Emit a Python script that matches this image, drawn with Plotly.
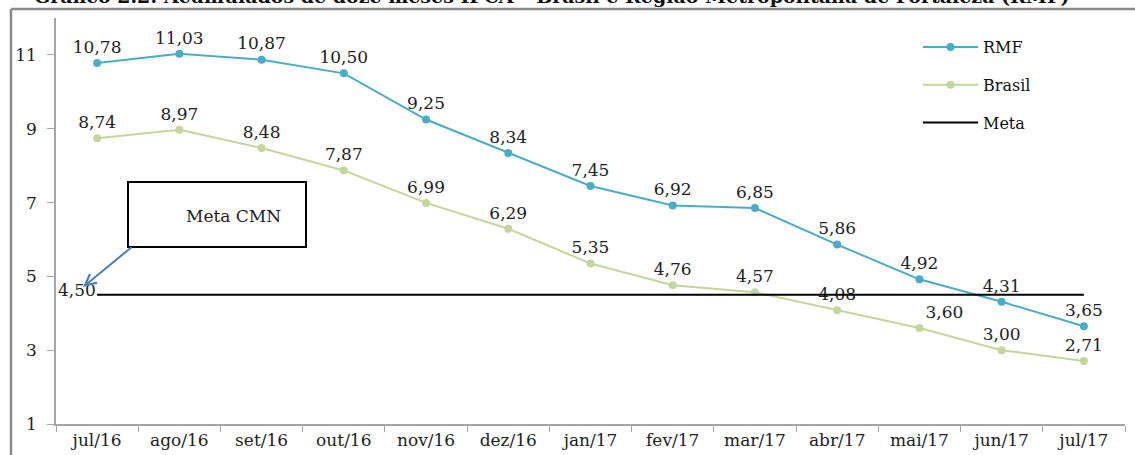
import plotly.graph_objects as go

# ---- data ----
months = ["jul/16", "ago/16", "set/16", "out/16", "nov/16", "dez/16", "jan/17",
          "fev/17", "mar/17", "abr/17", "mai/17", "jun/17", "jul/17"]
rmf = [10.78, 11.03, 10.87, 10.50, 9.25, 8.34, 7.45, 6.92, 6.85, 5.86, 4.92, 4.31, 3.65]
brasil = [8.74, 8.97, 8.48, 7.87, 6.99, 6.29, 5.35, 4.76, 4.57, 4.08, 3.60, 3.00, 2.71]
meta = [4.50] * len(months)
y_ticks = [1, 3, 5, 7, 9, 11]

W, H = 1135, 455
L, R, T, B = 56, 10, 18, 31
PW, PH = W - L - R, H - T - B


def px(x):
    return (x - L) / PW


def py(y):
    return (H - B - y) / PH


FONT = "DejaVu Serif"
C_RMF = "#4bacc6"
C_BR = "#c3d69b"
TXT = "#222222"


def fmt(v):
    return f"{v:.2f}".replace(".", ",")


br_pos = ["top center"] * len(brasil)
br_pos[10] = "top right"

fig = go.Figure()
fig.add_trace(go.Scatter(
    x=months, y=rmf, name="RMF", mode="lines+markers+text",
    line=dict(color=C_RMF, width=2), marker=dict(color=C_RMF, size=8),
    text=[fmt(v) for v in rmf], textposition="top center",
    textfont=dict(family=FONT, size=17, color=TXT),
    legendgroup="a", cliponaxis=False))
fig.add_trace(go.Scatter(
    x=months, y=brasil, name="Brasil", mode="lines+markers+text",
    line=dict(color=C_BR, width=2), marker=dict(color=C_BR, size=8),
    text=[fmt(v) for v in brasil], textposition=br_pos,
    textfont=dict(family=FONT, size=17, color=TXT),
    legendgroup="b", cliponaxis=False))
fig.add_trace(go.Scatter(
    x=months, y=meta, name="Meta", mode="lines",
    line=dict(color="black", width=2), legendgroup="c"))

fig.add_annotation(x=months[0], y=meta[0], xref="x", yref="y", text=fmt(meta[0]),
                   showarrow=False, xanchor="right", yanchor="middle", xshift=1, yshift=5,
                   font=dict(family=FONT, size=17, color=TXT))

# Meta CMN callout
fig.add_shape(type="rect", xref="paper", yref="paper",
              x0=px(128), x1=px(306), y0=py(247), y1=py(182),
              line=dict(color="black", width=2), fillcolor="white")
fig.add_annotation(xref="paper", yref="paper", x=px(233), y=py(216), text="Meta CMN",
                   xanchor="center", yanchor="middle",
                   showarrow=False, font=dict(family=FONT, size=17, color=TXT))
fig.add_annotation(xref="paper", yref="paper", x=px(83), y=py(287), text="",
                   showarrow=True, ax=50, ay=-41, arrowcolor="#4a7ebb",
                   arrowwidth=2, arrowhead=5, arrowsize=1.1)

# outer frame lines
fig.add_shape(type="line", xref="paper", yref="paper", x0=px(11), x1=px(1140),
              y0=py(9), y1=py(9), line=dict(color="#8c8c8c", width=2.5))
fig.add_shape(type="line", xref="paper", yref="paper", x0=px(11), x1=px(11),
              y0=py(9), y1=py(460), line=dict(color="#8c8c8c", width=2.5))

# cut-off title
fig.add_annotation(xref="paper", yref="paper", x=px(551), y=py(9), yanchor="bottom",
                   xanchor="center",
                   text="<b>Gráfico 2.2: Acumulados de doze meses IPCA – Brasil e Região Metropolitana de Fortaleza (RMF)</b>",
                   showarrow=False, font=dict(family=FONT, size=19, color="#111"))

fig.update_layout(
    width=W, height=H, margin=dict(l=L, r=R, t=T, b=B, autoexpand=False),
    plot_bgcolor="white", paper_bgcolor="white",
    font=dict(family=FONT, size=17, color=TXT),
    showlegend=True,
    legend=dict(x=px(918), y=py(30), xanchor="left", yanchor="top",
                font=dict(family=FONT, size=16, color="#111"),
                tracegroupgap=14, itemwidth=55, bgcolor="rgba(0,0,0,0)"),
    xaxis=dict(type="category", range=[-0.5, 12.5], showline=True, linecolor="#a6a6a6",
               linewidth=1.5, ticks="outside", tickson="boundaries", ticklen=6,
               tickcolor="#a6a6a6", showgrid=False, zeroline=False, automargin=False,
               tickfont=dict(family=FONT, size=17, color=TXT)),
    yaxis=dict(range=[1, 12], tickvals=y_ticks, showline=True, linecolor="#a6a6a6",
               linewidth=1.5, ticks="outside", ticklen=7, tickcolor="#a6a6a6",
               showgrid=False, zeroline=False, ticklabelstandoff=7, automargin=False,
               tickfont=dict(family=FONT, size=17, color=TXT)),
)

fig.write_html("out.html", config={"displayModeBar": False},
               post_script="document.body.style.margin='0';")
